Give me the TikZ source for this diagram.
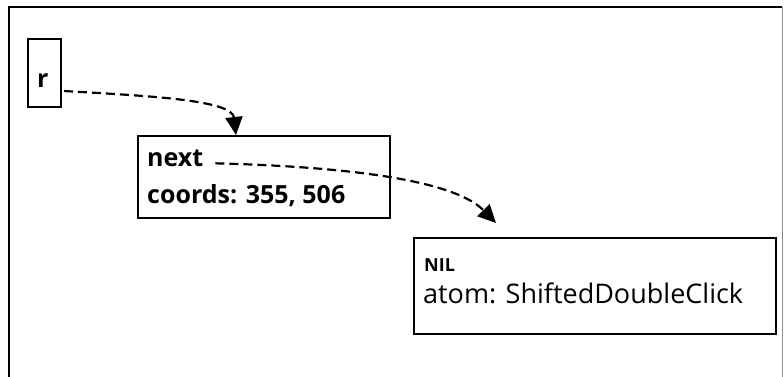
\documentclass[tikz,border=0pt]{standalone}
\usepackage{fontspec}
\setmainfont{Open Sans}
\usetikzlibrary{arrows.meta}
\begin{document}
\begin{tikzpicture}[x=1pt,y=-1pt,
  box/.style={draw, line width=2pt, inner sep=0pt, anchor=north west},
  lbl/.style={inner sep=0pt, anchor=base west},
  link/.style={line width=2.2pt, dash pattern=on 9pt off 5pt,
    -{Triangle[length=18pt,width=17pt]}}]
  \useasboundingbox (0,0) rectangle (784,377);
  % frame: open at the bottom
  \draw[line width=1.4pt] (9,377) -- (9,7) -- (782,7);
  \draw[line width=0.7pt, black!45] (782,7) -- (782,377);

  % root pointer
  \node[box, minimum width=33pt, minimum height=68pt] (r) at (27,38) {};
  \node[lbl, font=\fontsize{25}{27}\selectfont\bfseries] (rt) at (37,88) {r};

  % first cell
  \node[box, minimum width=252pt, minimum height=82pt] (cell) at (137,135) {};
  \node[lbl, font=\fontsize{25}{27}\selectfont\bfseries] (nx) at (147,166) {next};
  \node[lbl, font=\fontsize{25}{27}\selectfont\bfseries] (cd) at (147,203) {coords: 355, 506};

  % terminal cell
  \node[box, minimum width=362pt, minimum height=96pt] (nil) at (413,237) {};
  \node[lbl, font=\fontsize{18}{20}\selectfont\bfseries] (nl) at (424,271) {NIL};
  \node[lbl, font=\fontsize{27}{29}\selectfont] (at) at (423,303) {atom: ShiftedDoubleClick};

  \coordinate (cellin) at ([xshift=99pt]cell.north west);
  \coordinate (nilin) at (496,223);

  \draw[link] ([xshift=2pt,yshift=-18pt]r.east) .. controls (150,96) and (232,100) .. (cellin);
  \draw[link] ([xshift=12pt]nx.mid east) .. controls (320,166) and (450,176) .. (nilin);
\end{tikzpicture}
\end{document}
